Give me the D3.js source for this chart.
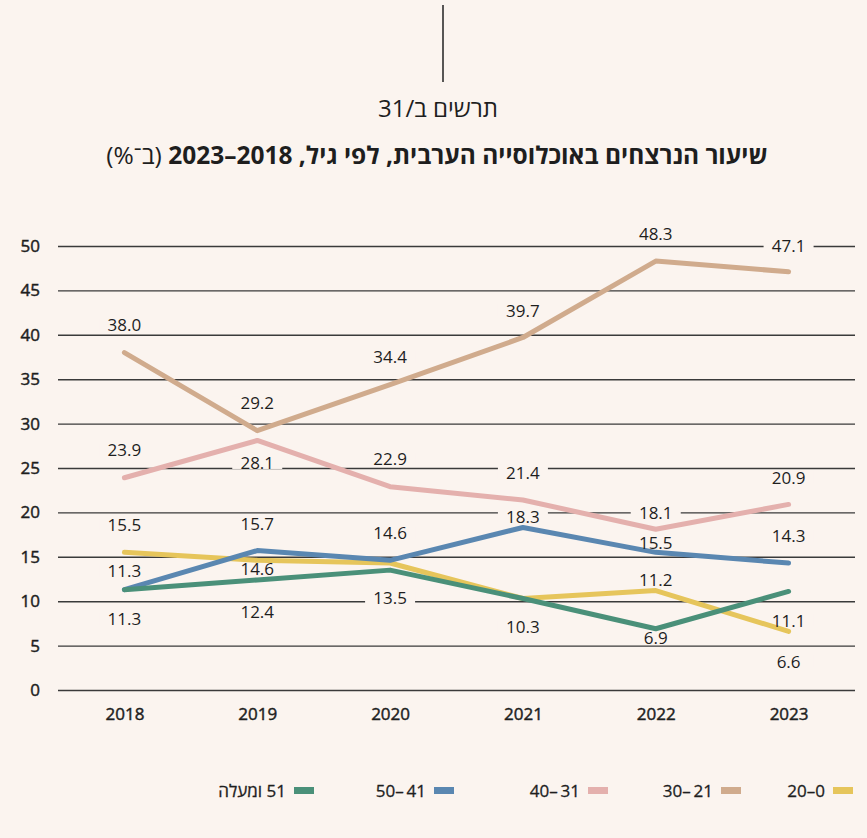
<!DOCTYPE html>
<html><head><meta charset="utf-8">
<script src="https://cdn.jsdelivr.net/npm/d3@7"></script>
<style>
html,body{margin:0;padding:0;background:#fbf4ef;}
svg{display:block;}
text{font-family:"Open Sans","Liberation Sans",sans-serif;fill:#1e1e1e;}
</style></head>
<body>
<svg id="chart" width="867" height="838"></svg>
<script>
// ---- data ----
const years = ["2018", "2019", "2020", "2021", "2022", "2023"];
const seriesNames = ["0–20", "21\u2009–30", "31\u2009–40", "41\u2009–50", "51 ומעלה"];
const valuesAge0to20 = [15.5, 14.6, 14.3, 10.3, 11.2, 6.6];
const valuesAge21to30 = [38.0, 29.2, 34.4, 39.7, 48.3, 47.1];
const valuesAge31to40 = [23.9, 28.1, 22.9, 21.4, 18.1, 20.9];
const valuesAge41to50 = [11.3, 15.7, 14.6, 18.3, 15.5, 14.3];
const valuesAge51plus = [11.3, 12.4, 13.5, 10.3, 6.9, 11.1];
const yTickValues = [0, 5, 10, 15, 20, 25, 30, 35, 40, 45, 50];
const titleMain = "שיעור הנרצחים באוכלוסייה הערבית, לפי גיל, 2018–2023";
const titleUnit = " (ב־%)";
const subtitle = "תרשים ב/31";

// ---- styling / layout (separate from data) ----
const colors = ["#e6c55b", "#d0ab8d", "#e4b0ad", "#5a87b1", "#4a9079"];
// label vertical offsets in px from each point (null = no label)
const labelOffsets = [
  [-27, 9, null, null, -11, 30],
  [-28, -28, -28, -27, -27, -26],
  [-28, 22, -28, -27, -16, -27],
  [-19, -27, -27, -11, -9, -27],
  [29, 32, 28, 28, 9, 29]
];
const legendSwatchX = [833, 721, 588, 434, 294];

const allValues = [valuesAge0to20, valuesAge21to30, valuesAge31to40, valuesAge41to50, valuesAge51plus];
const series = seriesNames.map((name, i) => ({
  name, color: colors[i],
  points: years.map((y, j) => ({year: y, value: allValues[i][j], dy: labelOffsets[i][j]}))
}));

const svg = d3.select("#chart");
svg.append("rect").attr("width", 867).attr("height", 838).attr("fill", "#fbf4ef");

const x = d3.scalePoint().domain(years).range([58, 855]).padding(0.5);
const y = d3.scaleLinear().domain([0, 50]).range([690, 246]);

// top rule + titles
svg.append("line").attr("x1", 443).attr("x2", 443).attr("y1", 5).attr("y2", 82)
  .attr("stroke", "#222").attr("stroke-width", 1.5);
svg.append("text").attr("x", 438).attr("y", 117).attr("text-anchor", "middle")
  .attr("direction", "rtl").style("font-size", "24px").text(subtitle);
const t = svg.append("text").attr("x", 437).attr("y", 164).attr("text-anchor", "middle")
  .attr("direction", "rtl").style("font-size", "24.5px");
t.append("tspan").style("font-weight", "700").text(titleMain);
t.append("tspan").style("font-weight", "400").text(titleUnit);

// grid + y axis
const yAxis = d3.axisLeft(y).tickValues(yTickValues).tickSize(-(855 - 58)).tickPadding(18);
const gy = svg.append("g").attr("transform", "translate(58,0)").call(yAxis);
gy.select(".domain").remove();
gy.selectAll(".tick line").attr("stroke", "#3a3a3a").attr("stroke-width", 1.4);
gy.selectAll(".tick text").attr("x", -18).style("font-size", "17px").style("font-weight", "400")
  .style("font-family", "'Open Sans',sans-serif").attr("fill", "#1e1e1e")
  .attr("stroke", "#1e1e1e").attr("stroke-width", 0.45);

// x axis labels
const xAxis = d3.axisBottom(x).tickSize(0).tickPadding(18);
const gx = svg.append("g").attr("transform", "translate(0,690)").call(xAxis);
gx.select(".domain").remove();
gx.selectAll(".tick text").style("font-size", "17px").style("font-weight", "400")
  .style("font-family", "'Open Sans',sans-serif").attr("fill", "#1e1e1e")
  .attr("stroke", "#1e1e1e").attr("stroke-width", 0.45);

const fmt = d3.format(".1f");
const labelData = [];
series.forEach(s => s.points.forEach(p => { if (p.dy !== null) labelData.push(p); }));

// label background boxes (interrupt gridlines)
svg.append("g").selectAll("rect").data(labelData).join("rect")
  .attr("x", d => x(d.year) - 25).attr("y", d => y(d.value) + d.dy - 6.5)
  .attr("width", 50).attr("height", 13).attr("fill", "#fbf4ef");

// lines
const line = d3.line().x(d => x(d.year)).y(d => y(d.value));
svg.append("g").selectAll("path").data(series).join("path")
  .attr("d", d => line(d.points)).attr("fill", "none")
  .attr("stroke", d => d.color).attr("stroke-width", 5)
  .attr("stroke-linecap", "round").attr("stroke-linejoin", "round");

// value labels
svg.append("g").selectAll("text").data(labelData).join("text")
  .attr("x", d => x(d.year)).attr("y", d => y(d.value) + d.dy)
  .attr("dy", "0.36em").attr("text-anchor", "middle")
  .style("font-size", "17px").text(d => fmt(d.value));

// legend
const lg = svg.append("g").selectAll("g").data(series).join("g");
lg.append("rect").attr("x", (d, i) => legendSwatchX[i]).attr("y", 787)
  .attr("width", 20).attr("height", 7).attr("fill", d => d.color);
lg.append("text").attr("x", (d, i) => legendSwatchX[i] - 8).attr("y", 797)
  .attr("direction", "rtl").attr("text-anchor", "start")
  .style("font-size", "17px").style("font-weight", "400")
  .attr("stroke", "#1e1e1e").attr("stroke-width", 0.3).text(d => d.name);
</script>
</body></html>
